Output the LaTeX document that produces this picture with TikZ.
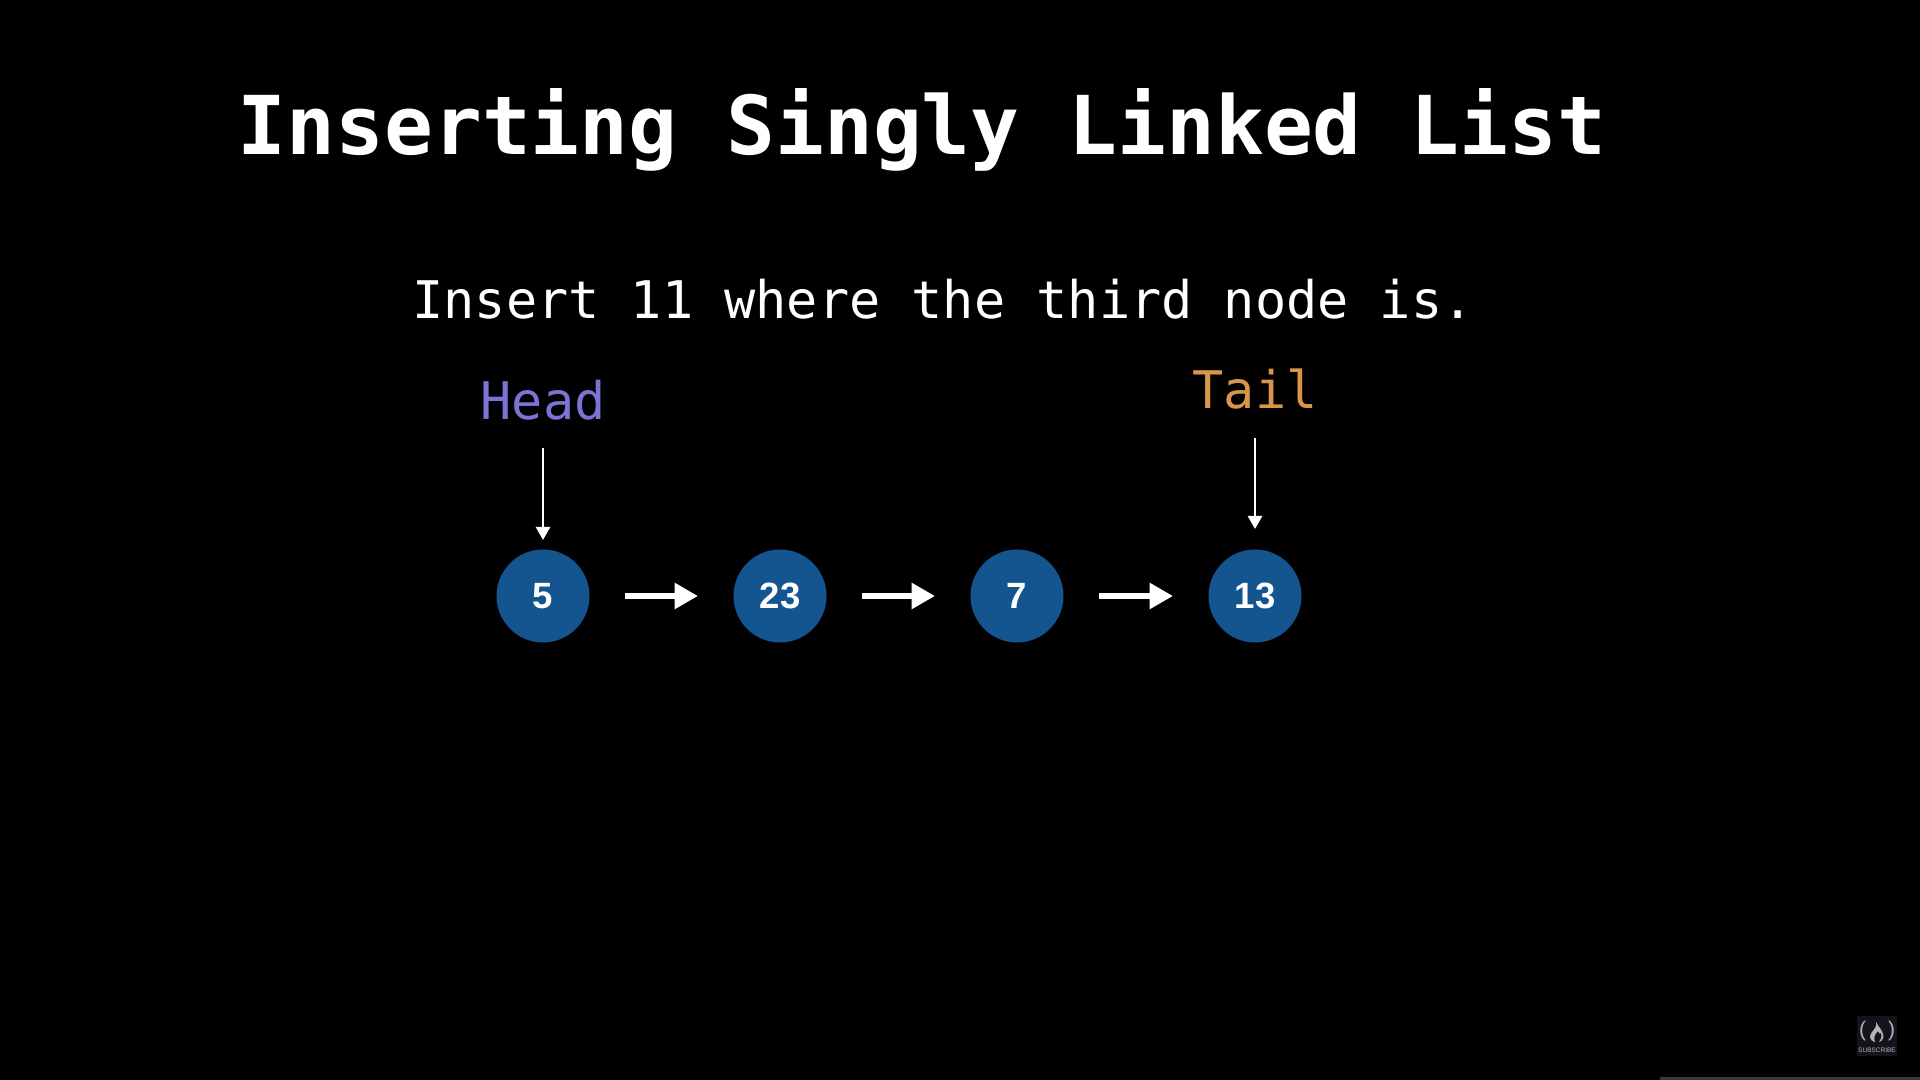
\documentclass[tikz,border=0pt]{standalone}
\usepackage{fontspec}
\setmainfont{Liberation Sans}
\setmonofont{DejaVu Sans Mono}
\usetikzlibrary{arrows.meta}

\definecolor{listblue}{HTML}{15558F}
\definecolor{headcol}{HTML}{7B74D4}
\definecolor{tailcol}{HTML}{D9954A}
\definecolor{logobg}{HTML}{14141C}
\definecolor{logofg}{HTML}{B4B4B8}
\definecolor{barcol}{HTML}{3A3A3A}

\begin{document}
\begin{tikzpicture}
  [every node/.style={inner sep=0pt,outer sep=0pt},
   item/.style={circle,fill=listblue,minimum size=.93cm,text=white,font=\fontsize{10.4}{12}\selectfont\bfseries},
   mono/.style={anchor=base,font=\fontsize{14.75}{18}\selectfont\ttfamily},
   nextlink/.style={white,line width=.06cm,-{Triangle[length=.235cm,width=.25cm]},shorten <=.355cm,shorten >=.355cm},
   ptrlink/.style={white,line width=.025cm,-{Triangle[length=.13cm,width=.14cm]}}]
  \fill [black] (0,0) rectangle (19.2,10.8);
  \useasboundingbox (0,0) rectangle (19.2,10.8);

  \node [mono,white,font=\fontsize{23.1}{28}\selectfont\ttfamily\bfseries] (title) at (9.22,9.25) {Inserting Singly Linked List};
  \node [mono,white] (task) at (9.43,7.61) {Insert 11 where the third node is.};

  \node [mono,text=headcol] (lblhead) at (5.43,6.60) {Head};
  \node [mono,text=tailcol] (lbltail) at (12.55,6.71) {Tail};

  \node [item] (n1) at (5.43,4.84) {5};
  \node [item] (n2) at (7.80,4.84) {23};
  \node [item] (n3) at (10.17,4.84) {7};
  \node [item] (n4) at (12.55,4.84) {13};

  \foreach \from/\to in {n1/n2,n2/n3,n3/n4}
    \draw [nextlink] (\from) -- (\to);

  \draw [ptrlink,shorten <=.27cm,shorten >=.095cm] (lblhead.south) -- (n1.north);
  \draw [ptrlink,shorten <=.28cm,shorten >=.205cm] (lbltail.south) -- (n4.north);

  % channel badge, lower right
  \node [fill=logobg,minimum width=.40cm,minimum height=.40cm] (badge) at (18.77,.44) {};
  \node [text=logofg,font=\fontsize{6}{7}\selectfont] (lparen) at (18.625,.49) {(};
  \node [text=logofg,font=\fontsize{6}{7}\selectfont] (rparen) at (18.915,.49) {)};
  \fill [logofg] (18.76,.58) .. controls (18.78,.52) and (18.71,.49) .. (18.70,.44)
    .. controls (18.70,.40) and (18.73,.38) .. (18.75,.38)
    .. controls (18.73,.42) and (18.75,.46) .. (18.78,.49)
    .. controls (18.79,.47) and (18.80,.45) .. (18.81,.47)
    .. controls (18.82,.43) and (18.81,.40) .. (18.79,.38)
    .. controls (18.83,.39) and (18.84,.43) .. (18.83,.46)
    .. controls (18.81,.52) and (18.79,.52) .. (18.76,.58) -- cycle;
  \node [anchor=base,text=logofg,font=\fontsize{1.85}{3}\selectfont] (subscribe) at (18.77,.272) {SUBSCRIBE};

  \fill [barcol] (16.60,0) rectangle (19.2,.025);
\end{tikzpicture}
\end{document}
